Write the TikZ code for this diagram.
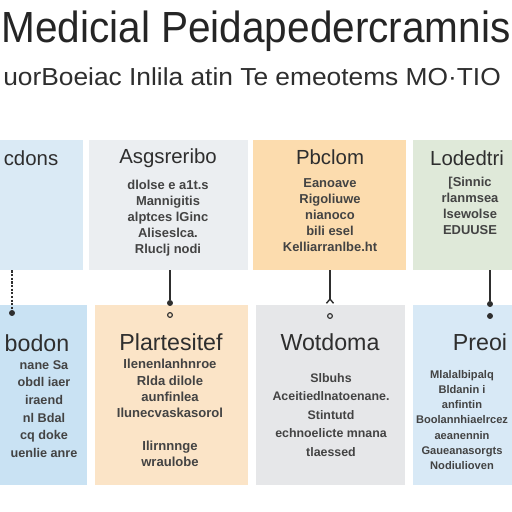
\documentclass[tikz,border=0pt]{standalone}
\usepackage{fontspec}
\setmainfont{Liberation Sans}
\usetikzlibrary{arrows.meta}
\definecolor{ink}{HTML}{2E2E2E}
\definecolor{blueA}{HTML}{DAEAF5}
\definecolor{greyA}{HTML}{EBEEF1}
\definecolor{peachA}{HTML}{FCDCAE}
\definecolor{greenA}{HTML}{DFE9D9}
\definecolor{blueB}{HTML}{C9E2F3}
\definecolor{peachB}{HTML}{FBE4C7}
\definecolor{greyB}{HTML}{E6E7E9}
\definecolor{blueC}{HTML}{D8E9F6}
\tikzset{
  panel/.style={rectangle,inner sep=0pt,minimum height=3.25cm},
  tallpanel/.style={rectangle,inner sep=0pt,minimum height=4.5cm},
  head/.style={inner sep=0pt,text=ink,font=\fontsize{14.5}{16}\selectfont},
  bighead/.style={inner sep=0pt,text=ink,font=\fontsize{16.5}{18}\selectfont},
  body/.style={inner sep=0pt,align=center,text=ink!90,font=\fontsize{9.2}{11.4}\selectfont\bfseries},
  dot/.style={circle,fill=ink,inner sep=1.5pt},
  ring/.style={circle,draw=ink,line width=0.8pt,inner sep=1.2pt}
}

\begin{document}
\begin{tikzpicture}[x=0.025cm,y=-0.025cm,>=Stealth]
  \useasboundingbox (0,0) rectangle (512,512);
  \clip (0,0) rectangle (512,512);
  \fill[white] (0,0) rectangle (512,512);

  \node[inner sep=0pt,text=ink!80!black,font=\fontsize{31}{34}\selectfont,xscale=0.93] (title) at (256,31) {Medicial Peidapedercramnis};
  \node[anchor=west,inner sep=0pt,text=ink,font=\fontsize{17.5}{20}\selectfont,xscale=1.07] (subtitle) at (3,77) {uorBoeiac Inlila atin Te emeotems MO·TIO};

  \node[panel,fill=blueA,minimum width=3.55cm] (p1) at (12,205) {};
  \node[panel,fill=greyA,minimum width=3.975cm] (p2) at (168.5,205) {};
  \node[panel,fill=peachA,minimum width=3.825cm] (p3) at (329.5,205) {};
  \node[panel,fill=greenA,minimum width=3.85cm] (p4) at (490,205) {};
  \node[tallpanel,fill=blueB,minimum width=3.75cm] (p5) at (12,395) {};
  \node[tallpanel,fill=peachB,minimum width=3.825cm] (p6) at (171.5,395) {};
  \node[tallpanel,fill=greyB,minimum width=3.725cm] (p7) at (330.5,395) {};
  \node[tallpanel,fill=blueC,minimum width=3.85cm] (p8) at (490,395) {};

  \node[head] (t1) at (31,158) {cdons};
  \node[head] (t2) at (168,158) {Asgsreribo};
  \node[head] (t3) at (330,157) {Pbclom};
  \node[head] (t4) at (467,158) {Lodedtri};
  \node[bighead] (t5) at (37,343) {bodon};
  \node[bighead] (t6) at (171,342) {Plartesitef};
  \node[bighead] (t7) at (330,342) {Wotdoma};
  \node[bighead] (t8) at (480,342) {Preoi};

  \node[body] (b2) at (168,218) {dlolse e a1t.s\\Mannigitis\\alptces lGinc\\Aliseslca.\\Rluclj nodi};
  \node[body] (b3) at (330,215) {Eanoave\\Rigoliuwe\\nianoco\\bili esel\\Kelliarranlbe.ht};
  \node[body] (b4) at (470,206) {[Sinnic\\rlanmsea\\lsewolse\\EDUUSE};
  \node[body,font=\fontsize{9}{12.5}\selectfont\bfseries] (b5) at (44,409) {nane Sa\\obdl iaer\\iraend\\nl Bdal\\cq doke\\uenlie anre};
  \node[body,font=\fontsize{9.3}{11.6}\selectfont\bfseries] (b6) at (170,413) {Ilenenlanhnroe\\Rlda dilole\\aunfinlea\\Ilunecvaskasorol\\[11.6pt]Ilirnnnge\\wraulobe};
  \node[body,font=\fontsize{8.8}{13.2}\selectfont\bfseries] (b7) at (331,415) {Slbuhs\\Aceitiedlnatoenane.\\Stintutd\\echnoelicte mnana\\tlaessed};
  \node[body,font=\fontsize{7.9}{10.7}\selectfont\bfseries] (b8) at (462,420) {Mlalalbipalq\\Bldanin i\\anfintin\\Boolannhiaelrcez\\aeanennin\\Gaueanasorgts\\Nodiulioven};

  \node[dot] (d5) at (12,313) {};
  \node[dot] (d6) at (170,303) {};
  \node[ring] (r6) at (170,315) {};
  \node[ring] (r7) at (330,316) {};
  \node[dot] (d8) at (490,304) {};
  \node[dot] (e8) at (490,316) {};

  \draw[ink,line width=1.6pt,densely dotted] (p1.south) -- (d5);
  \draw[ink,line width=1pt] (p2.south -| d6) -- (d6);
  \draw[ink,line width=1pt,-{Straight Barb[reversed,length=3pt,width=5pt]}] (p3.south -| r7) -- (330,304);
  \draw[ink,line width=1pt] (p4.south) -- (d8);
\end{tikzpicture}
\end{document}
